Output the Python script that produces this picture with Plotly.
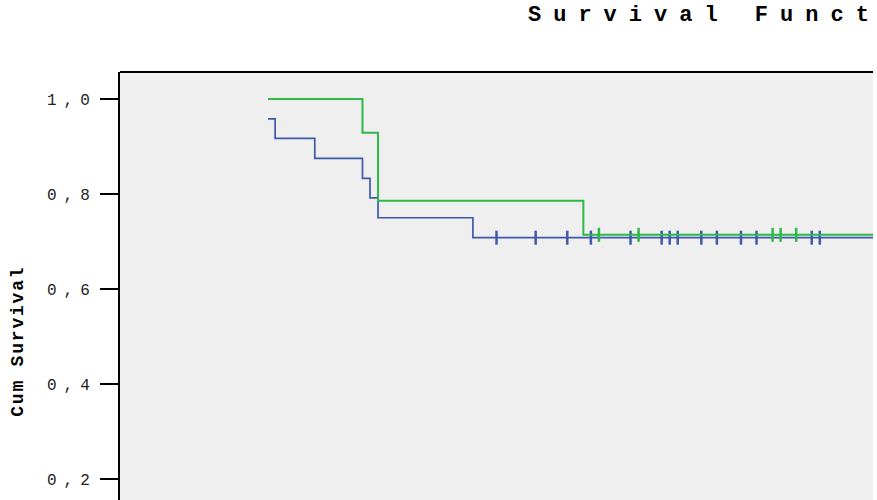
import plotly.graph_objects as go

# Kaplan-Meier estimates for the two groups (time, cumulative survival after each event)
blue_event_times = [0, 1.4, 9.3, 18.8, 20.3, 21.9, 40.8]
blue_survival = [0.958, 0.917, 0.875, 0.833, 0.792, 0.750, 0.708]
blue_censored = [45.5, 53.3, 59.6, 64.3, 72.2, 78.4, 80.0, 81.6, 86.3, 89.4,
                 94.2, 97.3, 108.3, 109.9, 125.0]

green_event_times = [0, 18.8, 21.9, 62.8]
green_survival = [1.0, 0.929, 0.786, 0.714]
green_censored = [65.9, 73.8, 100.5, 102.1, 105.2, 125.0]

y_ticks = [0.2, 0.4, 0.6, 0.8, 1.0]

BLUE = "#3E58AC"
GREEN = "#2EB848"
MONO = "Liberation Mono, Courier New, monospace"


def surv_at(t, times, surv):
    value = surv[0]
    for ti, si in zip(times, surv):
        if ti <= t:
            value = si
    return value


def step_trace(times, surv, censored, color, width):
    end = max(censored)
    xs = list(times) + [end]
    ys = list(surv) + [surv[-1]]
    line = go.Scatter(x=xs, y=ys, mode="lines", line_shape="hv",
                      line=dict(color=color, width=width), hoverinfo="skip")
    marks = go.Scatter(x=censored, y=[surv_at(t, times, surv) for t in censored],
                       mode="markers",
                       marker=dict(symbol="line-ns", size=10,
                                   line=dict(color=color, width=2.5)),
                       hoverinfo="skip")
    return [line, marks]


fig = go.Figure()
for tr in step_trace(blue_event_times, blue_survival, blue_censored, BLUE, 1.7):
    fig.add_trace(tr)
for tr in step_trace(green_event_times, green_survival, green_censored, GREEN, 2):
    fig.add_trace(tr)

fig.update_layout(
    width=877, height=500,
    margin=dict(l=120, r=4, t=72, b=0),
    paper_bgcolor="white", plot_bgcolor="#EFEFEF",
    showlegend=False,
    separators=",.",
    title=dict(text="<b>Survival Functions</b>",
               font=dict(family=MONO, size=22, color="black"),
               xref="container", x=528 / 877, xanchor="left",
               yref="container", y=1 - 13 / 500, yanchor="middle"),
    xaxis=dict(range=[-29.5, 120.5], showgrid=False, zeroline=False,
               showline=False, showticklabels=False, ticks=""),
    yaxis=dict(range=[0.1558, 1.0568], tickvals=y_ticks, tickformat=".1f",
               showgrid=False, zeroline=False,
               showline=True, linecolor="black", linewidth=2,
               ticks="outside", ticklen=18, tickwidth=2, tickcolor="black",
               tickfont=dict(family=MONO, size=16, color="#222222")),
    shapes=[dict(type="line", xref="paper", yref="paper", x0=0, x1=1, y0=1, y1=1,
                 line=dict(color="black", width=2))],
    annotations=[dict(text="<b>Cum Survival</b>", textangle=-90,
                      xref="paper", yref="paper",
                      x=(18 - 120) / 753, y=(500 - 341) / 428,
                      xanchor="center", yanchor="middle", showarrow=False,
                      font=dict(family=MONO, size=18, color="black"))],
)

# Courier-style output with wide character spacing
post_js = """
var gd = document.getElementById('{plot_id}');
function spaceText() {
  gd.querySelectorAll('.gtitle').forEach(function (t) { t.style.letterSpacing = '12px'; });
  gd.querySelectorAll('.ytick text').forEach(function (t) { t.style.letterSpacing = '7px'; });
  gd.querySelectorAll('.annotation-text').forEach(function (t) { t.style.letterSpacing = '1.8px'; });
}
spaceText();
gd.on('plotly_afterplot', spaceText);
"""

fig.write_html("out.html", post_script=post_js)
